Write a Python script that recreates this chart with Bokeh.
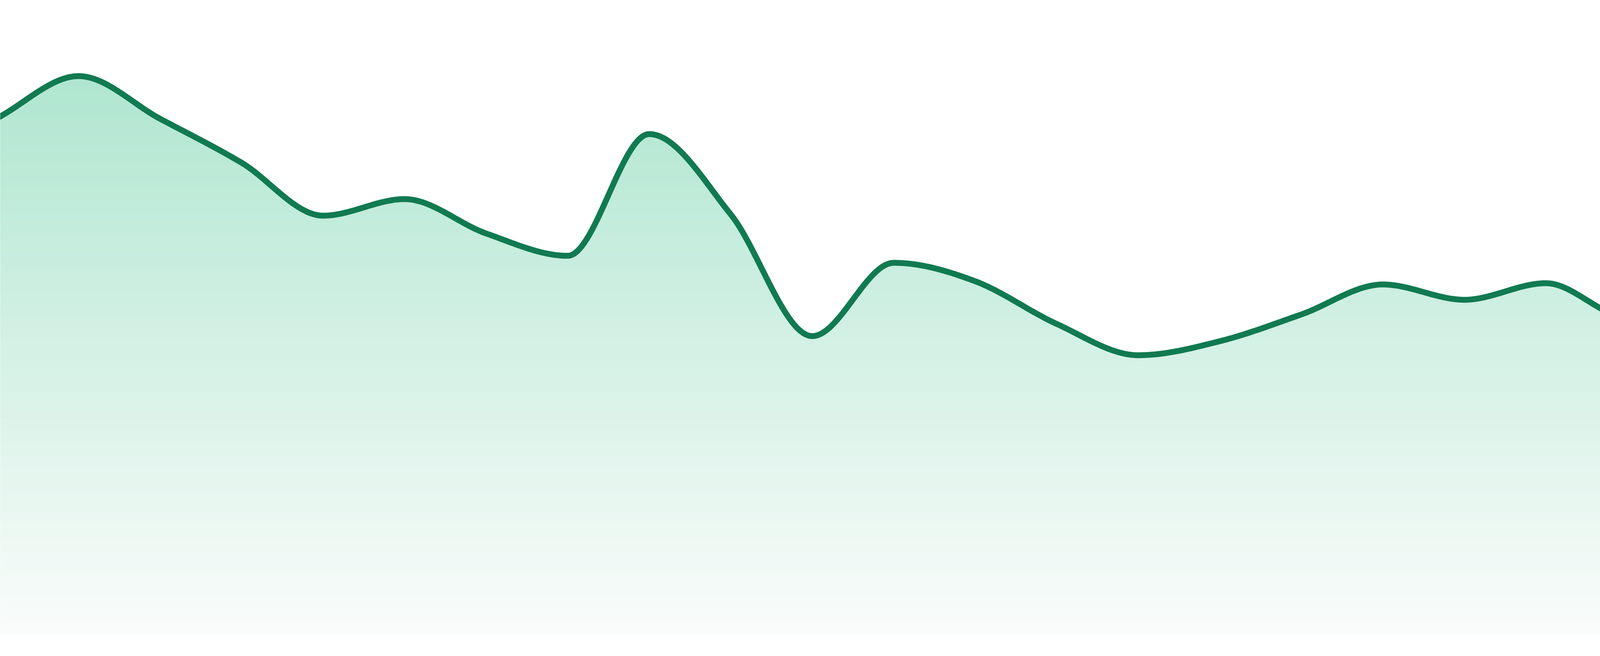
import numpy as np
from bokeh.plotting import figure
from bokeh.models import Range1d
from bokeh.embed import file_html
from bokeh.resources import INLINE

# ---- data ----
points = list(range(24))
values = [81.0, 87.6, 80.9, 74.0, 65.7, 68.3, 62.9, 59.4, 78.5, 65.9, 46.8, 58.3,
          55.4, 48.7, 43.8, 46.0, 50.2, 54.9, 52.5, 55.1, 49.8, 50.6, 53.1, 53.1]

# ---- style ----
LINE_COLOR = "#117A51"
FILL_TOP = (165, 227, 202)
FILL_BOTTOM = (250, 252, 251)
Y_MIN, Y_MAX = -2.45, 99.51


def monotone_curve(xv, yv, samples=48):
    """Monotone cubic (Fritsch-Carlson) rendering of the line through the points."""
    x = np.asarray(xv, float)
    y = np.asarray(yv, float)
    n = len(x)
    h = np.diff(x)
    d = np.diff(y) / h
    m = np.zeros(n)
    m[0], m[-1] = d[0], d[-1]
    for k in range(1, n - 1):
        if d[k - 1] == 0 or d[k] == 0 or np.sign(d[k - 1]) != np.sign(d[k]):
            m[k] = 0.0
        else:
            m[k] = (d[k - 1] + d[k]) / 2.0
    for k in range(n - 1):
        if d[k] == 0:
            m[k] = m[k + 1] = 0.0
            continue
        a, b = m[k] / d[k], m[k + 1] / d[k]
        s = a * a + b * b
        if s > 9:
            t = 3.0 / np.sqrt(s)
            m[k] = t * a * d[k]
            m[k + 1] = t * b * d[k]
    xs, ys = [], []
    for k in range(n - 1):
        t = np.linspace(0, 1, samples, endpoint=(k == n - 2))
        h00 = 2 * t**3 - 3 * t**2 + 1
        h10 = t**3 - 2 * t**2 + t
        h01 = -2 * t**3 + 3 * t**2
        h11 = t**3 - t**2
        xs.append(x[k] + t * h[k])
        ys.append(h00 * y[k] + h10 * h[k] * m[k] + h01 * y[k + 1] + h11 * h[k] * m[k + 1])
    return np.concatenate(xs), np.concatenate(ys)


cx, cy = monotone_curve(points, values)

p = figure(width=4784, height=1664, output_backend="svg", toolbar_location=None,
           x_range=Range1d(0.0383, 22.962), y_range=Range1d(Y_MIN, Y_MAX),
           x_axis_location=None, y_axis_location=None, min_border=0)
p.outline_line_color = None
p.background_fill_color = "white"
p.border_fill_color = "white"
p.xgrid.visible = False
p.ygrid.visible = False

# vertical gradient fill under the curve, drawn as horizontal bands
band_edges = np.linspace(0.0, 100.0, 101)
for lo, hi in zip(band_edges[:-1], band_edges[1:]):
    frac = 1.0 - (lo + hi) / 200.0
    col = tuple(int(round(FILL_TOP[i] + (FILL_BOTTOM[i] - FILL_TOP[i]) * frac)) for i in range(3))
    color = "#%02x%02x%02x" % col
    upper = np.clip(cy, lo, hi + 0.15)
    p.varea(x=cx, y1=np.minimum(lo, upper), y2=upper, fill_color=color)

p.line(cx, cy, line_color=LINE_COLOR, line_width=15, line_join="round")

open("out.html", "w").write(file_html(p, INLINE))
